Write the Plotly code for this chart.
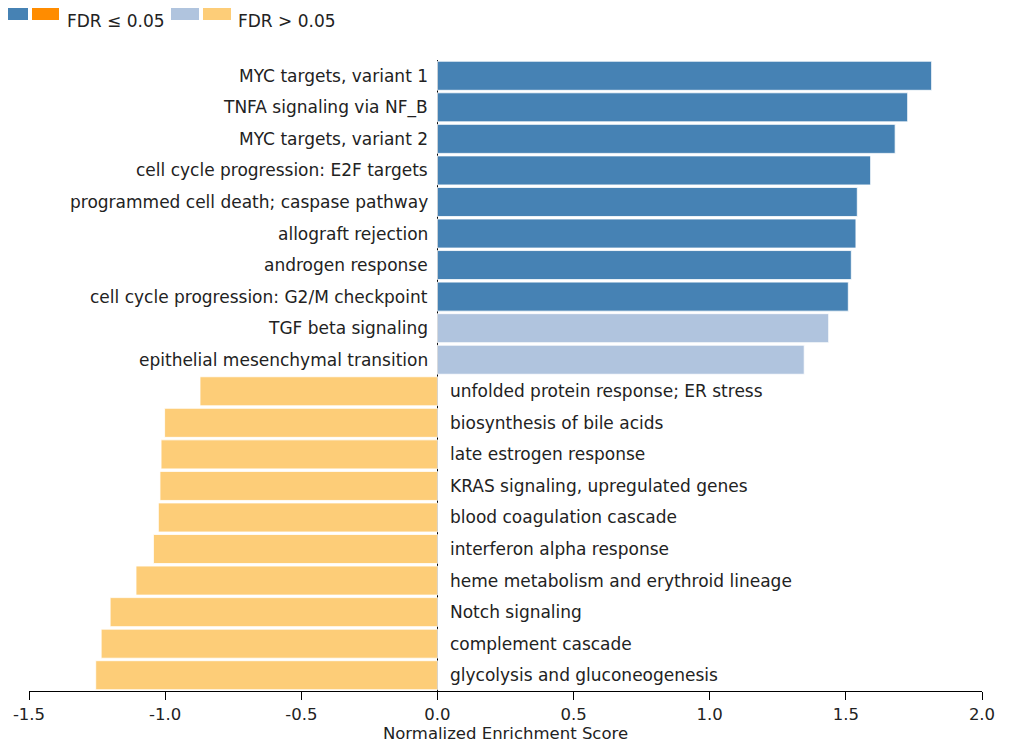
import plotly.graph_objects as go

# gene sets, top to bottom
pathways = [
    "MYC targets, variant 1",
    "TNFA signaling via NF_B",
    "MYC targets, variant 2",
    "cell cycle progression: E2F targets",
    "programmed cell death; caspase pathway",
    "allograft rejection",
    "androgen response",
    "cell cycle progression: G2/M checkpoint",
    "TGF beta signaling",
    "epithelial mesenchymal transition",
    "unfolded protein response; ER stress",
    "biosynthesis of bile acids",
    "late estrogen response",
    "KRAS signaling, upregulated genes",
    "blood coagulation cascade",
    "interferon alpha response",
    "heme metabolism and erythroid lineage",
    "Notch signaling",
    "complement cascade",
    "glycolysis and gluconeogenesis",
]
nes = [1.815, 1.727, 1.681, 1.591, 1.542, 1.537, 1.520, 1.509, 1.437, 1.347,
       -0.872, -1.002, -1.015, -1.019, -1.025, -1.043, -1.107, -1.202, -1.235, -1.255]
significant = [True] * 8 + [False] * 12

tick_vals = [-1.5, -1.0, -0.5, 0.0, 0.5, 1.0, 1.5, 2.0]
tick_text = ["-1.5", "-1.0", "-0.5", "0.0", "0.5", "1.0", "1.5", "2.0"]

UP_SIG, DOWN_SIG = "#4682b4", "#ff8c00"
UP_NS, DOWN_NS = "#b0c4de", "#fdcd78"


def bar_color(v, sig):
    if v >= 0:
        return UP_SIG if sig else UP_NS
    return DOWN_SIG if sig else DOWN_NS


colors = [bar_color(v, s) for v, s in zip(nes, significant)]
FONT = "DejaVu Sans"
TXT = "#222"

fig = go.Figure(go.Bar(
    x=nes, y=pathways, orientation="h",
    marker=dict(color=colors, line=dict(color="rgba(255,255,255,0.8)", width=1)),
    showlegend=False, hoverinfo="x+y",
))

# labels next to the zero line
for name, v in zip(pathways, nes):
    fig.add_annotation(
        x=0, y=name, text=name, showarrow=False,
        xanchor="right" if v >= 0 else "left",
        xshift=-7 if v >= 0 else 11,
        font=dict(family=FONT, size=17, color=TXT),
    )

# page has an 8px body margin, so the figure is a bit smaller than the window
W, H = 1016, 742
L, R, T, B = 21, 42, 52, 59
pw, ph = W - L - R, H - T - B


def px_x(p):
    return (p - L) / pw


def px_y(p):
    return (H - B - p) / ph


# legend drawn by hand: two swatches per group
legend = [
    (-8, 20, UP_SIG), (24, 51, DOWN_SIG),
    (163, 191, UP_NS), (195, 223, DOWN_NS),
]
for x0, x1, c in legend:
    fig.add_shape(type="rect", xref="paper", yref="paper",
                  x0=px_x(max(x0, 0)), x1=px_x(x1), y0=px_y(12), y1=px_y(0),
                  fillcolor=c, line=dict(width=0), layer="above")
for xs, txt in [(57, "FDR ≤ 0.05"), (228, "FDR > 0.05")]:
    fig.add_annotation(xref="paper", yref="paper", x=px_x(xs), y=px_y(1),
                       xanchor="left", yanchor="top", text=txt, showarrow=False,
                       font=dict(family=FONT, size=17, color=TXT))

fig.update_layout(
    width=W, height=H,
    margin=dict(l=L, r=R, t=T, b=B, autoexpand=False),
    plot_bgcolor="white", paper_bgcolor="white",
    bargap=0.08,
    font=dict(family=FONT, size=17, color=TXT),
    xaxis=dict(
        range=[-1.5, 2.0], tickvals=tick_vals, ticktext=tick_text,
        automargin=False,
        showgrid=False, zeroline=True, zerolinecolor="black", zerolinewidth=1,
        showline=True, linecolor="black", linewidth=1,
        ticks="outside", ticklen=8, tickcolor="black",
        title=dict(text="Normalized Enrichment Score", standoff=2,
                   font=dict(family=FONT, size=16.5)),
        tickfont=dict(family=FONT, size=16.5),
    ),
    yaxis=dict(
        autorange="reversed", showticklabels=False, showgrid=False,
        zeroline=False, showline=False, ticks="", automargin=False,
    ),
)

fig.write_html("out.html")
